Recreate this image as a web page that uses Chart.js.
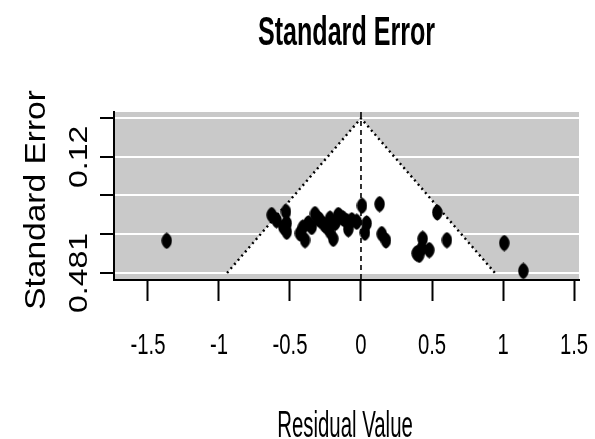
<!DOCTYPE html>
<html>
<head>
<meta charset="utf-8">
<script src="https://cdn.jsdelivr.net/npm/chart.js@4/dist/chart.umd.min.js"></script>
<style>
  html, body { margin: 0; padding: 0; background: #fff; }
  canvas { display: block; }
</style>
</head>
<body>
<canvas id="c" width="595" height="439"></canvas>
<script>
// ---- data ----
const residualValue = [-1.368, 1.009, 1.143, 0.537, 0.605, 0.434, 0.392, 0.481, 0.427, 0.131,
  0.007, 0.146, 0.176, 0.040, 0.028, -0.629, -0.594, -0.528, -0.523, -0.547,
  -0.523, -0.430, -0.394, -0.371, -0.324, -0.347, -0.289, -0.242, -0.218, -0.195,
  -0.218, -0.160, -0.125, -0.089, -0.065, -0.030, -0.148, -0.260, -0.100, -0.410,
  -0.300, -0.180, 0.410];
const standardError = [0.381, 0.388, 0.475, 0.293, 0.379, 0.375, 0.420, 0.410, 0.405, 0.267,
  0.272, 0.360, 0.380, 0.327, 0.356, 0.301, 0.317, 0.291, 0.327, 0.338,
  0.353, 0.358, 0.379, 0.327, 0.298, 0.338, 0.317, 0.338, 0.312, 0.375,
  0.353, 0.301, 0.312, 0.345, 0.317, 0.322, 0.306, 0.330, 0.320, 0.340,
  0.312, 0.325, 0.425];
const funnelX = [-0.943, 0, 0.943];
const funnelSE = [0.481, 0, 0.481];
const refLineX = [0, 0];
const refLineSE = [-0.0195, 0.503];
const xTickValues = [-1.5, -1, -0.5, 0, 0.5, 1, 1.5];
const xTickLabels = ['-1.5', '-1', '-0.5', '0', '0.5', '1', '1.5'];
const yTickValues = [0, 0.12, 0.24, 0.361, 0.481];
const yTickLabels = ['', '0.12', '', '', '0.481'];
const titleText = 'Standard Error';
const xTitleText = 'Residual Value';
const yTitleText = 'Standard Error';

// ---- point marker ----
const marker = document.createElement('canvas');
marker.width = 11; marker.height = 17;
(function () {
  const m = marker.getContext('2d');
  m.fillStyle = '#000';
  m.beginPath();
  m.moveTo(5.5, 0.3);
  m.quadraticCurveTo(10.7, 3, 10.7, 8.5);
  m.quadraticCurveTo(10.7, 14, 5.5, 16.7);
  m.quadraticCurveTo(0.3, 14, 0.3, 8.5);
  m.quadraticCurveTo(0.3, 3, 5.5, 0.3);
  m.fill();
})();

function drawStretched(ctx, text, x, y, emAlong, emCap, bold, rotate) {
  ctx.save();
  ctx.translate(x, y);
  if (rotate) ctx.rotate(-Math.PI / 2);
  ctx.scale(1, emCap / emAlong);
  ctx.font = (bold ? 'bold ' : '') + emAlong + 'px "Liberation Sans", Arial, sans-serif';
  ctx.textAlign = 'center';
  ctx.textBaseline = 'alphabetic';
  ctx.fillStyle = '#000';
  ctx.fillText(text, 0, 0);
  ctx.restore();
}

const bgPlugin = {
  id: 'bg',
  beforeDraw(chart) {
    const { ctx, chartArea: a } = chart;
    ctx.save();
    ctx.fillStyle = '#fff';
    ctx.fillRect(0, 0, chart.width, chart.height);
    ctx.fillStyle = '#c9c9c9';
    ctx.fillRect(a.left, a.top, a.right - a.left, a.bottom - a.top);
    ctx.restore();
  },
  afterDraw(chart) {
    const ctx = chart.ctx;
    const xs = chart.scales.x, ys = chart.scales.y;
    drawStretched(ctx, titleText, 346.5, 45, 25.1, 40.7, true, false);
    xTickValues.forEach((v, i) => {
      drawStretched(ctx, xTickLabels[i], xs.getPixelForValue(v), 354, 20.3, 28.6, false, false);
    });
    drawStretched(ctx, xTitleText, 345, 437, 20.4, 37.8, false, false);
    drawStretched(ctx, yTitleText, 45, 200, 33.5, 29.1, false, true);
    yTickValues.forEach((v, i) => {
      if (yTickLabels[i]) drawStretched(ctx, yTickLabels[i], 87, ys.getPixelForValue(v), 32, 25.7, false, true);
    });
  }
};

new Chart(document.getElementById('c'), {
  type: 'scatter',
  data: {
    datasets: [
      {
        type: 'scatter',
        order: 0,
        data: residualValue.map((x, i) => ({ x: x, y: standardError[i] })),
        pointStyle: marker,
        pointRadius: 5,
        pointHoverRadius: 5
      },
      {
        type: 'line',
        order: 1,
        data: refLineX.map((x, i) => ({ x: x, y: refLineSE[i] })),
        borderColor: '#000',
        borderWidth: 1.6,
        borderDash: [5, 4],
        pointRadius: 0,
        fill: false
      },
      {
        type: 'line',
        order: 2,
        data: funnelX.map((x, i) => ({ x: x, y: funnelSE[i] })),
        borderColor: '#000',
        borderWidth: 2.4,
        borderDash: [2, 3.5],
        backgroundColor: '#fff',
        pointRadius: 0,
        tension: 0,
        fill: { value: 0.481 }
      }
    ]
  },
  options: {
    responsive: false,
    devicePixelRatio: 1,
    animation: false,
    layout: { padding: { top: 112, right: 16, left: 0, bottom: 0 } },
    plugins: { legend: { display: false }, tooltip: { enabled: false }, title: { display: false } },
    scales: {
      x: {
        type: 'linear',
        min: -1.739,
        max: 1.535,
        afterFit(s) { s.height = 159; },
        afterBuildTicks(s) { s.ticks = xTickValues.map(v => ({ value: v })); },
        ticks: { color: 'rgba(0,0,0,0)', callback: (v) => xTickLabels[xTickValues.indexOf(v)] },
        grid: { drawOnChartArea: false, drawTicks: true, tickLength: 21, tickColor: '#000', tickWidth: 2 },
        border: { display: true, color: '#000', width: 2 }
      },
      y: {
        type: 'linear',
        reverse: true,
        min: -0.0195,
        max: 0.503,
        afterFit(s) { s.width = 114; },
        afterBuildTicks(s) { s.ticks = yTickValues.map(v => ({ value: v })); },
        ticks: { color: 'rgba(0,0,0,0)', callback: (v) => yTickLabels[yTickValues.indexOf(v)] || '' },
        grid: { color: '#fff', lineWidth: 2, drawOnChartArea: true, drawTicks: true, tickLength: 14, tickColor: '#000', tickWidth: 2 },
        border: { display: true, color: '#000', width: 2 }
      }
    }
  },
  plugins: [bgPlugin]
});
</script>
</body>
</html>
